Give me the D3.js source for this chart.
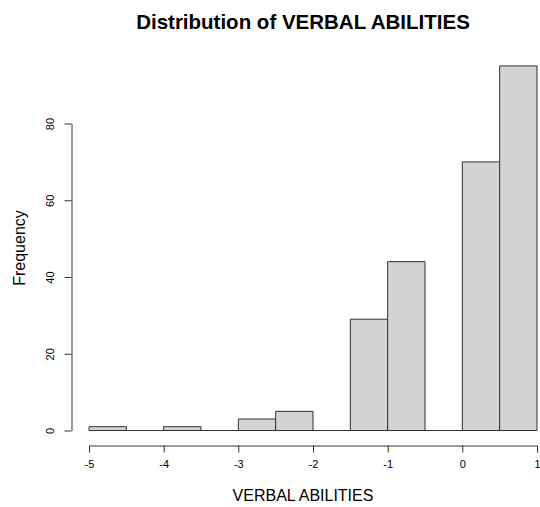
<!DOCTYPE html>
<html>
<head>
<meta charset="utf-8">
<script src="https://cdn.jsdelivr.net/npm/d3@7"></script>
<style>
  body { margin: 0; background: #fff; }
  text { font-family: "Liberation Sans", Arial, sans-serif; }
</style>
</head>
<body>
<div id="main"></div>
<script>
// histogram bins (breaks of 0.5) and counts
var binStarts = [-5, -4.5, -4, -3.5, -3, -2.5, -2, -1.5, -1, -0.5, 0, 0.5];
var counts = [1, 0, 1, 0, 3, 5, 0, 29, 44, 0, 70, 95];
var xTicks = [-5, -4, -3, -2, -1, 0, 1];
var yTicks = [0, 20, 40, 60, 80];
var binWidth = 0.5;

var width = 540;
var height = 507;

var x = d3.scaleLinear().domain([-5, 1]).range([89, 537]);
var y = d3.scaleLinear().domain([0, 80]).range([430.5, 123.5]);

var svg = d3.select("#main").append("svg")
  .attr("width", width)
  .attr("height", height);

// bars drawn as closed outlines so empty bins still show a baseline
svg.selectAll("path.bar")
  .data(binStarts)
  .enter().append("path")
  .attr("class", "bar")
  .attr("d", function(d, i) {
    var x0 = x(d), x1 = x(d + binWidth), y0 = y(0), y1 = y(counts[i]);
    return "M" + x0 + "," + y0 + "L" + x0 + "," + y1 + "L" + x1 + "," + y1 + "L" + x1 + "," + y0 + "Z";
  })
  .attr("fill", "#d3d3d3")
  .attr("stroke", "#333")
  .attr("stroke-width", 1);

var fmt = function(d) { return String(d); }; // plain hyphen like R

// x axis
var xAxis = svg.append("g")
  .attr("transform", "translate(0,445.5)")
  .call(d3.axisBottom(x).tickValues(xTicks).tickSize(7).tickPadding(8).tickFormat(fmt));
xAxis.select(".domain").attr("stroke", "#333");
xAxis.selectAll(".tick line").attr("stroke", "#333");
xAxis.selectAll("text").attr("font-size", 11).attr("fill", "#000")
  .attr("font-family", "Liberation Sans, Arial, sans-serif");

// y axis
var yAxis = svg.append("g")
  .attr("transform", "translate(71.5,0)")
  .call(d3.axisLeft(y).tickValues(yTicks).tickSize(7).tickSizeOuter(0).tickFormat(fmt));
yAxis.select(".domain").attr("stroke", "#333");
yAxis.selectAll(".tick line").attr("stroke", "#333");
yAxis.selectAll("text")
  .attr("font-size", 11).attr("fill", "#000")
  .attr("font-family", "Liberation Sans, Arial, sans-serif")
  .attr("x", null).attr("dy", null)
  .attr("text-anchor", "middle")
  .attr("transform", "translate(-17.5,0) rotate(-90)");

// title
svg.append("text")
  .attr("x", 303).attr("y", 29)
  .attr("text-anchor", "middle")
  .attr("font-size", 20.5).attr("font-weight", "bold")
  .text("Distribution of VERBAL ABILITIES");

// x label
svg.append("text")
  .attr("x", 303).attr("y", 501)
  .attr("text-anchor", "middle")
  .attr("font-size", 16)
  .text("VERBAL ABILITIES");

// y label
svg.append("text")
  .attr("transform", "translate(25,248) rotate(-90)")
  .attr("text-anchor", "middle")
  .attr("font-size", 16)
  .text("Frequency");
</script>
</body>
</html>
